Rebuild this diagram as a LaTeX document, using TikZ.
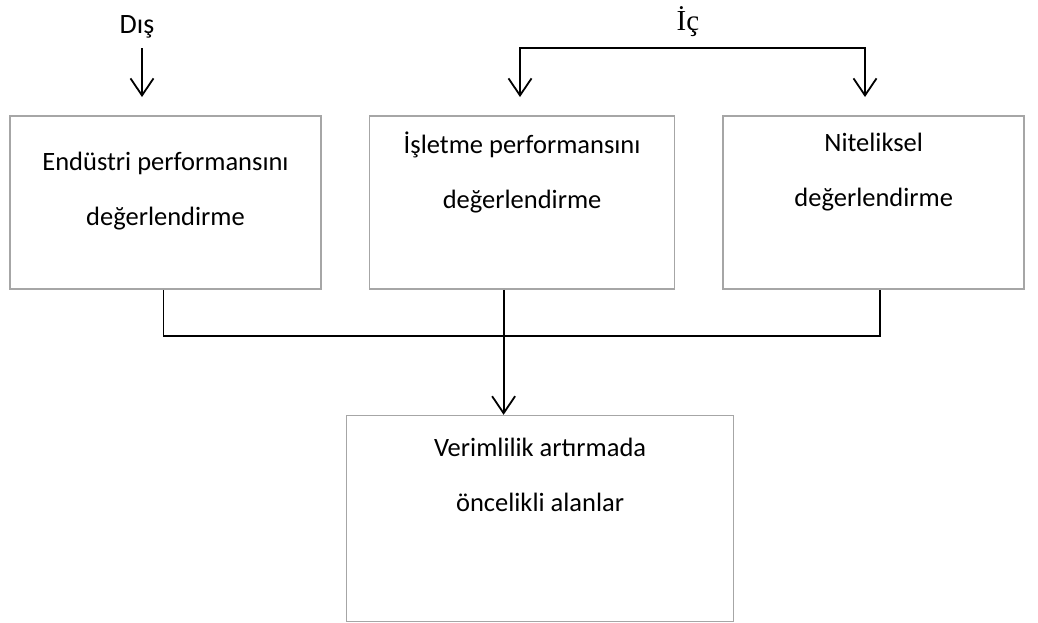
\documentclass[tikz,border=0pt]{standalone}
\usepackage{fontspec}
\setmainfont{Carlito}
\newfontfamily\icfont{Liberation Serif}
\usetikzlibrary{positioning,arrows.meta}

\begin{document}
\begin{tikzpicture}[
    x=1pt, y=-1pt,
    node distance=47pt,
    >={Straight Barb[length=17pt,width=23pt]},
    box/.style={
      draw=black!35,
      line width=1.6pt,
      minimum height=173pt
    },
    txt/.style={
      anchor=north,
      align=center,
      inner sep=0pt,
      font=\fontsize{26.5}{55}\selectfont
    },
    line/.style={line width=1.8pt},
    arr/.style={line width=1.8pt, ->}
  ]
    \useasboundingbox (0,0) rectangle (1038,622);

    % boxes
    \node[box, minimum width=311pt] (ind) at (165.5,202.5) {};
    \node[box, minimum width=305pt, right=of ind] (isl) {};
    \node[box, minimum width=301pt, right=of isl] (nit) {};
    \node[box, minimum width=387pt, minimum height=206pt,
          below=125pt of isl, xshift=18pt] (ver) {};

    % texts
    \node[txt, below=37pt of ind.north] (indtxt) {Endüstri performansını\\değerlendirme};
    \node[txt, below=16pt of isl.north] (isltxt) {İşletme performansını\\değerlendirme};
    \node[txt, below=18pt of nit.north] (nittxt) {Niteliksel\\değerlendirme};
    \node[txt, below=23pt of ver.north] (vertxt) {Verimlilik artırmada\\öncelikli alanlar};

    \node[font=\fontsize{28}{32}\selectfont, anchor=base] (dis) at (137,33) {Dış};
    \node[font=\icfont\fontsize{29}{32}\selectfont, anchor=base] (ic) at (688,30) {İç};

    % connectors
    \coordinate (disend) at (142,97);
    \coordinate (disbeg) at (142,48);
    \coordinate (ictop) at (688,48);
    \coordinate (icl) at (520,97);
    \coordinate (icr) at (865,97);
    \coordinate (bus) at (502,336);

    \draw[arr] (disbeg) -- (disend);
    \draw[line, <->] (icl) |- (ictop) -| (icr);
    \draw[line] ([xshift=-2pt]ind.south) |- (bus) -| ([xshift=6.5pt]nit.south);
    \draw[arr] ([xshift=-18.5pt]isl.south) -- ([xshift=-36.5pt]ver.north);
  \end{tikzpicture}
\end{document}
